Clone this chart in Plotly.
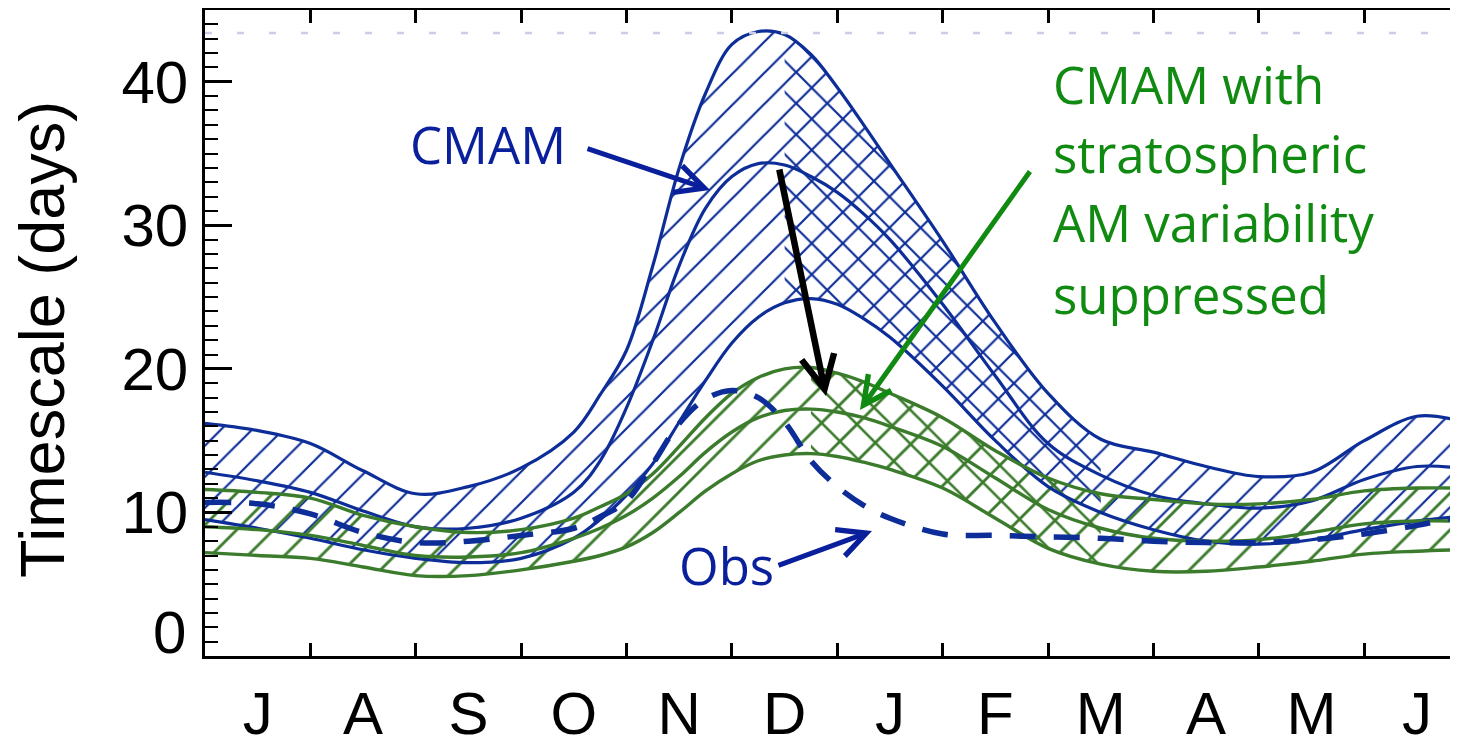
import plotly.graph_objects as go

# ---------------- data ----------------
month_labels = ['J', 'A', 'S', 'O', 'N', 'D', 'J', 'F', 'M', 'A', 'M', 'J']
month_edges = list(range(12))                 # month boundaries (0 = 1 July)
month_mids = [m + 0.5 for m in range(12)]     # label positions
y_tick_vals = [0, 10, 20, 30, 40]
y_tick_text = ['', '10', '20', '30', '40']
zero_label = '0'

# time in months since 1 July
t = [0, 0.5, 1, 1.5, 2, 2.5, 3, 3.5, 3.75, 4, 4.25, 4.5, 4.75, 5, 5.25, 5.5,
     5.75, 6, 6.25, 6.5, 7, 7.5, 8, 8.5, 9, 9.5, 10, 10.5, 11, 11.5, 11.89]

cmam_upper = [16.2, 15.7, 14.8, 12.9, 11.3, 11.8, 13.1, 15.6, 18.2, 21.3,
              27.2, 34.0, 39.2, 42.6, 43.5, 43.3, 41.9, 39.6, 37.0, 34.3,
              28.9, 23.2, 18.3, 15.1, 14.2, 13.2, 12.5, 12.8, 15.0, 16.7, 16.4]
cmam_mid = [12.8, 12.2, 11.4, 10.1, 9.0, 8.9, 9.6, 11.4, 13.6, 17.3,
            22.0, 27.2, 31.2, 33.4, 34.3, 34.2, 33.4, 32.3, 30.8, 29.0,
            24.5, 19.5, 14.8, 12.6, 11.2, 10.6, 10.3, 10.8, 12.3, 13.2, 13.1]
cmam_lower = [9.5, 8.9, 8.2, 7.4, 6.8, 6.5, 6.8, 8.2, 9.5, 11.2,
              13.4, 16.3, 19.2, 21.8, 23.6, 24.6, 24.9, 24.5, 23.5, 22.2,
              18.8, 15.0, 11.8, 10.0, 8.8, 8.0, 7.8, 8.1, 8.8, 9.4, 9.7]

supp_upper = [11.6, 11.4, 11.0, 9.8, 9.0, 8.6, 8.8, 9.6, 10.4, 11.3,
              12.7, 14.6, 16.6, 18.3, 19.4, 20.0, 20.1, 19.7, 19.1, 18.3,
              16.6, 14.3, 12.4, 11.3, 10.9, 10.6, 10.6, 10.9, 11.5, 11.7, 11.7]
supp_mid = [9.0, 8.8, 8.4, 7.7, 7.0, 6.9, 7.2, 8.2, 8.9, 9.8,
            11.0, 12.5, 14.2, 15.6, 16.6, 17.1, 17.2, 17.0, 16.6, 16.0,
            14.6, 12.4, 10.2, 8.9, 8.2, 8.0, 8.1, 8.6, 9.2, 9.4, 9.4]
supp_lower = [7.2, 7.0, 6.8, 6.2, 5.6, 5.6, 6.0, 6.6, 7.0, 7.6,
              8.6, 10.0, 11.5, 12.7, 13.6, 14.0, 14.1, 13.9, 13.5, 13.0,
              11.7, 9.6, 7.5, 6.4, 5.9, 5.9, 6.2, 6.6, 7.1, 7.3, 7.4]

obs = [10.7, 10.6, 9.9, 8.6, 7.9, 8.0, 8.4, 8.9, 9.7, 10.8,
       13.4, 16.2, 17.9, 18.5, 18.0, 16.3, 13.6, 11.8, 10.5, 9.6,
       8.5, 8.4, 8.3, 8.2, 8.0, 7.9, 7.9, 8.1, 8.5, 9.1, 9.7]

ref_level = 43.4
x_range = [0, 11.89]
y_range = [0, 45]
# index span of the cross-hatched, decaying part of each band
cross_span = (15, 24)

# ---------------- styling ----------------
BLUE = '#0d2d98'
GREEN = '#3b7b2c'
TEXT_BLUE = '#0a1f9c'
TEXT_GREEN = '#118a11'
AXFONT = 'Liberation Sans, Arial, sans-serif'
TXFONT = 'Open Sans, sans-serif'

# the page body adds an 8 px margin, so the figure is drawn 8 px smaller
OFF = 8
W, H = 1458 - OFF, 738 - OFF
ML, MR, MT, MB = 205 - OFF, 0, 10 - OFF, 82


def paper(px, py):
    """pixel position on the page -> paper coordinates"""
    px, py = px - OFF, py - OFF
    return (px - ML) / (W - ML - MR), (H - MB - py) / (H - MB - MT)


fig = go.Figure()

TRANSPARENT = 'rgba(0,0,0,0)'


def band(xs, lower, upper, colour, size, solidity, shape):
    fig.add_trace(go.Scatter(x=xs, y=lower, mode='lines',
                             line=dict(width=0, shape='spline', color=colour),
                             hoverinfo='skip', showlegend=False))
    fig.add_trace(go.Scatter(x=xs, y=upper, mode='lines', fill='tonexty',
                             fillcolor=TRANSPARENT,
                             fillpattern=dict(shape=shape, fgcolor=colour,
                                              bgcolor=TRANSPARENT, size=size,
                                              solidity=solidity,
                                              fillmode='replace'),
                             line=dict(width=0, shape='spline', color=colour),
                             hoverinfo='skip', showlegend=False))


a, b = cross_span
band(t, cmam_lower, cmam_upper, BLUE, 22, 0.10, '/')
band(t[a:b], cmam_lower[a:b], cmam_upper[a:b], BLUE, 22, 0.10, '\\')
band(t, supp_lower, supp_upper, GREEN, 26, 0.11, '/')
band(t[a + 1:b], supp_lower[a + 1:b], supp_upper[a + 1:b], GREEN, 24, 0.11, '\\')

for ys in (cmam_upper, cmam_mid, cmam_lower):
    fig.add_trace(go.Scatter(x=t, y=ys, mode='lines',
                             line=dict(color=BLUE, width=3.2, shape='spline'),
                             showlegend=False))
for ys in (supp_upper, supp_mid, supp_lower):
    fig.add_trace(go.Scatter(x=t, y=ys, mode='lines',
                             line=dict(color=GREEN, width=3.4, shape='spline'),
                             showlegend=False))

fig.add_trace(go.Scatter(x=t, y=obs, mode='lines',
                         line=dict(color=BLUE, width=5.5, shape='spline',
                                   dash='26px,18px'),
                         showlegend=False))

# dummy trace so the label axis is drawn
fig.add_trace(go.Scatter(x=month_mids, y=[None] * len(month_mids),
                         xaxis='x2', mode='lines', showlegend=False,
                         hoverinfo='skip'))

# faint dotted reference level at top
fig.add_shape(type='line', xref='paper', x0=0, x1=1, yref='y',
              y0=ref_level, y1=ref_level,
              line=dict(color='#c9cde6', width=2.5, dash='7px,25px'))

annotations = []

# y-axis title
tx, ty = paper(42, 340)
annotations.append(dict(text='Timescale (days)', xref='paper', yref='paper',
                        x=tx, y=ty, xanchor='center', yanchor='middle',
                        textangle=-90, showarrow=False,
                        font=dict(family=AXFONT, size=63, color='black')))
# the '0' label sits slightly above the axis corner
zx, zy = paper(188, 632)
annotations.append(dict(text=zero_label, xref='paper', yref='paper',
                        x=zx, y=zy, xanchor='right', yanchor='middle',
                        showarrow=False,
                        font=dict(family=AXFONT, size=60, color='black')))


def label(text, px, py, colour, anchor='left'):
    x, y = paper(px, py)
    annotations.append(dict(text=text, xref='paper', yref='paper', x=x, y=y,
                            xanchor=anchor, yanchor='middle', showarrow=False,
                            font=dict(family=TXFONT, size=51, color=colour)))


def arrow(tail, head, colour, width, size):
    hx, hy = paper(*head)
    annotations.append(dict(text='', xref='paper', yref='paper', x=hx, y=hy,
                            ax=tail[0] - head[0], ay=tail[1] - head[1],
                            showarrow=True, arrowhead=5, arrowsize=size,
                            arrowwidth=width, arrowcolor=colour,
                            standoff=0, startstandoff=0))


label('CMAM', 408, 144, TEXT_BLUE)
label('Obs', 677, 565, TEXT_BLUE)
for txt, py in (('CMAM with', 84), ('stratospheric', 153),
                ('AM variability', 222), ('suppressed', 294)):
    label(txt, 1051, py, TEXT_GREEN)

arrow((586, 148), (710, 190), TEXT_BLUE, 5, 1.1)
arrow((779, 168), (826, 396), 'black', 6.5, 1.0)
arrow((1031, 170), (860, 410), TEXT_GREEN, 5, 1.1)
arrow((777, 566), (872, 531), TEXT_BLUE, 5, 1.1)

fig.update_layout(
    width=W, height=H,
    margin=dict(l=ML, r=MR, t=MT, b=MB, pad=0, autoexpand=False),
    paper_bgcolor='white', plot_bgcolor='white',
    showlegend=False,
    annotations=annotations,
    xaxis=dict(range=x_range, tickmode='array', tickvals=month_edges,
               showticklabels=False, ticks='inside', ticklen=13,
               tickwidth=2.5, tickcolor='black', showline=True,
               linecolor='black', linewidth=2.5, mirror='ticks',
               showgrid=False, zeroline=False, automargin=False),
    xaxis2=dict(overlaying='x', side='bottom', anchor='y', range=x_range,
                tickmode='array', tickvals=month_mids, ticktext=month_labels,
                ticks='', showline=False, showgrid=False, zeroline=False,
                ticklabelstandoff=17, automargin=False,
                tickfont=dict(family=AXFONT, size=60, color='black')),
    yaxis=dict(range=y_range, tickmode='array', tickvals=y_tick_vals,
               ticktext=y_tick_text, ticks='inside', ticklen=27,
               tickwidth=2.5, tickcolor='black', showline=True,
               linecolor='black', linewidth=2.5, mirror=False,
               showgrid=False, zeroline=False, ticklabelstandoff=2,
               automargin=False,
               tickfont=dict(family=AXFONT, size=60, color='black'),
               minor=dict(tickmode='linear', tick0=0, dtick=1,
                          ticks='inside', ticklen=13, tickwidth=2,
                          tickcolor='black', showgrid=False)),
)

fig.write_html('out.html')
